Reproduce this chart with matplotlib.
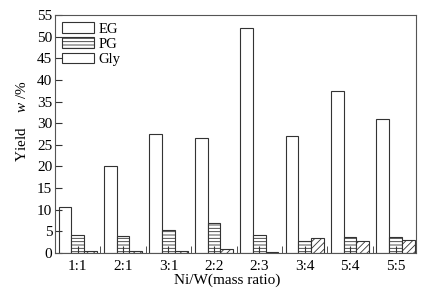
import matplotlib
matplotlib.use("Agg")
import matplotlib.pyplot as plt
from matplotlib.patches import Patch
from matplotlib.ticker import FixedLocator
import numpy as np

categories = ["1:1", "2:1", "3:1", "2:2", "2:3", "3:4", "5:4", "5:5"]
eg = [10.7, 20.2, 27.6, 26.5, 52.1, 27.0, 37.4, 30.9]
pg = [4.2, 4.0, 5.3, 6.9, 4.2, 2.8, 3.8, 3.8]
gly = [0.5, 0.5, 0.5, 0.85, 0.3, 3.4, 2.8, 2.9]
yticks = [0, 5, 10, 15, 20, 25, 30, 35, 40, 45, 50, 55]

plt.rcParams['font.family'] = ['Liberation Serif', 'DejaVu Serif']
plt.rcParams['mathtext.fontset'] = 'custom'
plt.rcParams['mathtext.rm'] = 'Liberation Serif'
plt.rcParams['mathtext.it'] = 'Liberation Serif:italic'
plt.rcParams['hatch.linewidth'] = 0.6

ec = '#333333'
fig = plt.figure(figsize=(4.24, 2.92), dpi=100)
ax = fig.add_axes([0.1297, 0.1336, 0.8513, 0.815])

x = np.arange(len(categories))
w = 0.28
ax.bar(x - w, eg, w, facecolor='white', edgecolor=ec, linewidth=0.8)
ax.bar(x, pg, w, facecolor='white', edgecolor=ec, linewidth=0.8, hatch='-----')
ax.bar(x + w, gly, w, facecolor='white', edgecolor=ec, linewidth=0.8, hatch='/////')

ax.set_xlim(-0.5, 7.45)
ax.set_ylim(0, 55)
ax.set_xticks(x)
ax.set_xticklabels(categories)
ax.xaxis.set_minor_locator(FixedLocator(x + 0.5))
ax.set_yticks(yticks)
ax.tick_params(axis='both', which='both', direction='in', labelsize=11, color=ec)
ax.tick_params(axis='x', which='major', length=5, pad=5)
ax.tick_params(axis='x', which='minor', length=5)
ax.tick_params(axis='y', length=5, pad=2)
for s in ax.spines.values():
    s.set_linewidth(0.8)
    s.set_color('#555555')

ax.set_xlabel("Ni/W(mass ratio)", fontsize=11)
ax.xaxis.set_label_coords(0.476, -0.088)
ax.set_ylabel("Yield    $w$ /%", fontsize=11)
ax.yaxis.set_label_coords(-0.072, 0.555)

handles = [Patch(facecolor='white', edgecolor=ec, linewidth=0.8, label='EG'),
           Patch(facecolor='white', edgecolor=ec, linewidth=0.8, hatch='-----', label='PG'),
           Patch(facecolor='white', edgecolor=ec, linewidth=0.8, label='Gly')]
ax.legend(handles=handles, loc='upper left', frameon=False, fontsize=10.5,
          handlelength=2.2, handleheight=0.75, labelspacing=0.12,
          borderpad=0.2, borderaxespad=0.3, handletextpad=0.3)

fig.savefig("out.png", dpi=100)
